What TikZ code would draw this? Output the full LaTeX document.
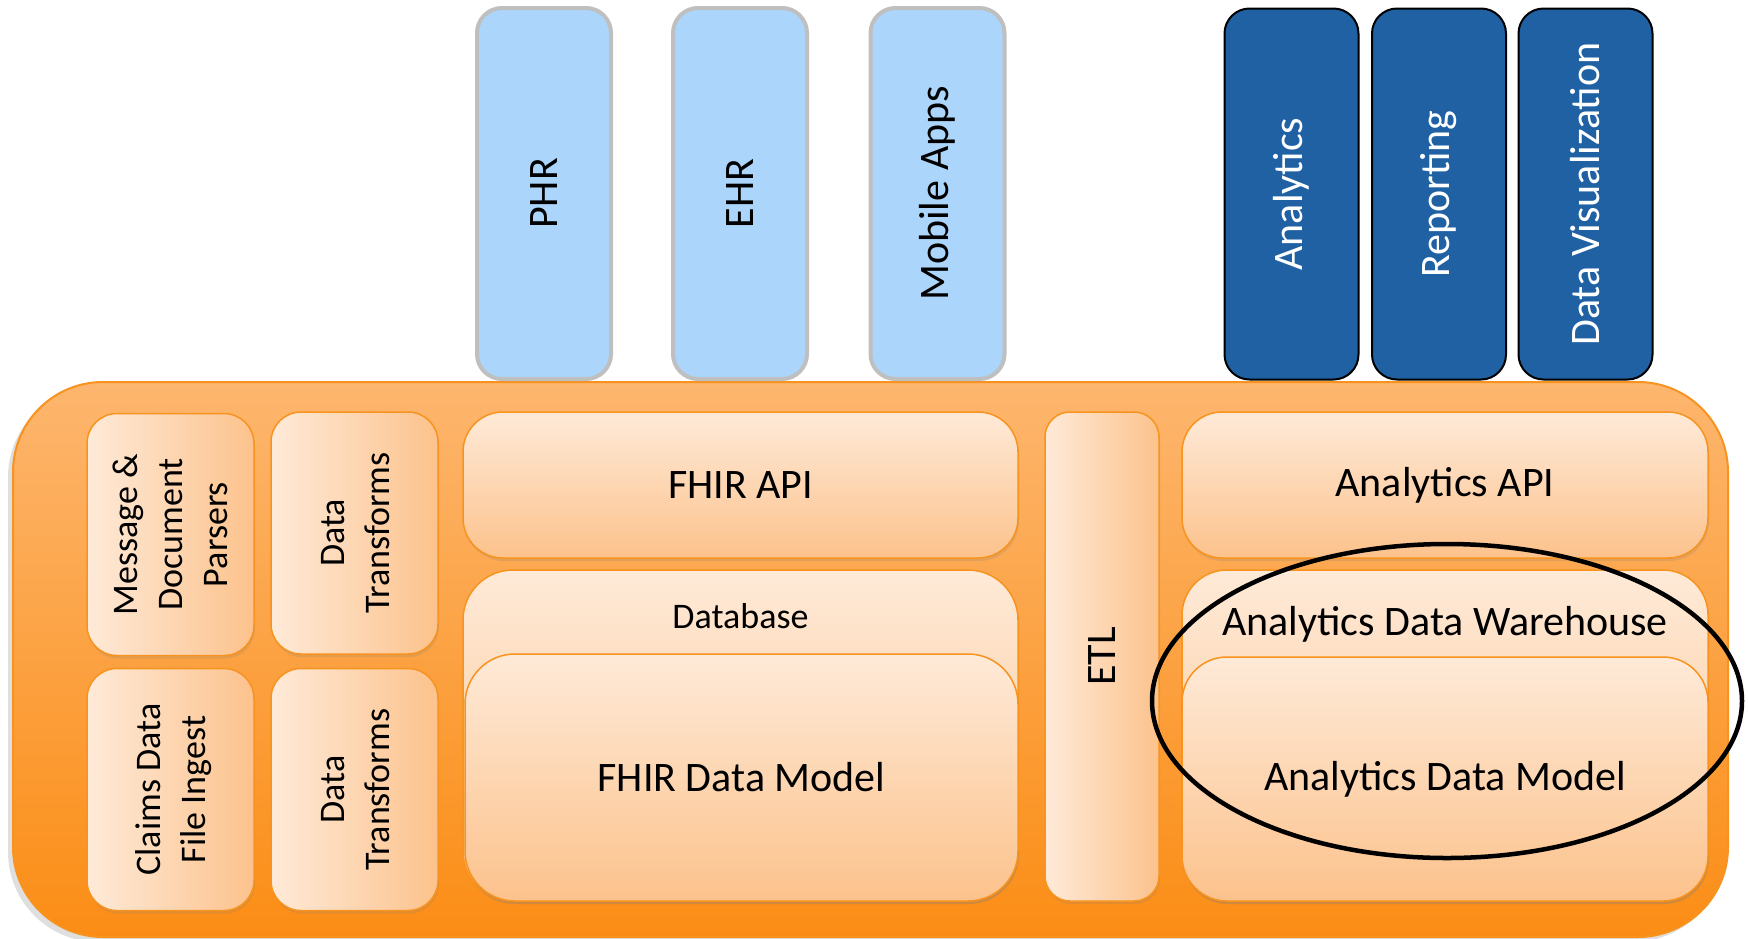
\documentclass[tikz,border=0pt]{standalone}
\usepackage{fontspec}
\setmainfont{Carlito}
\usetikzlibrary{shadows,shapes.geometric}
\definecolor{appblue}{HTML}{ABD5FA}
\definecolor{appedge}{HTML}{BFBFBF}
\definecolor{toolblue}{HTML}{1F61A3}
\definecolor{platformtop}{HTML}{FDB66E}
\definecolor{platformbottom}{HTML}{FB8D15}
\definecolor{platformedge}{HTML}{F7931E}
\definecolor{layerlight}{HTML}{FEEAD8}
\definecolor{layerdark}{HTML}{FCC28C}
\newcommand{\bigfont}{\fontsize{42}{50}\selectfont}
\newcommand{\smallfont}{\fontsize{36}{45}\selectfont}
\newcommand{\uplabel}[1]{\rotatebox{90}{\begin{tabular}{@{}c@{}}#1\end{tabular}}}

\begin{document}
\begin{tikzpicture}[x=1pt,y=-1pt,
  platform/.style={draw=platformedge,line width=2pt,rounded corners=90pt,top color=platformtop,bottom color=platformbottom,drop shadow={shadow xshift=-5pt,shadow yshift=-5pt,opacity=0.25}},
  layer/.style={draw=platformedge,line width=1.5pt,rounded corners=30pt,inner sep=0pt,font=\bigfont,drop shadow={shadow xshift=1pt,shadow yshift=-3pt,opacity=0.2}},
  flat/.style={layer,top color=layerlight,bottom color=layerdark},
  upright/.style={layer,left color=layerlight,right color=layerdark,font=\smallfont},
  app/.style={rotate=90,rounded corners=25pt,minimum width=371pt,minimum height=134pt,font=\bigfont},
  client/.style={app,fill=appblue,draw=appedge,line width=4pt},
  tool/.style={app,fill=toolblue,draw=black,line width=2pt,text=white}]
  \useasboundingbox (0,0) rectangle (1748,938);

  \node[platform,minimum width=1715pt,minimum height=555pt] (platform) at (870.5,659.5) {};

  \foreach \name/\x/\y/\words in {parsers/170.5/534.5/{Message \&\\Document\\Parsers},
      transformsA/354.5/533/{Data\\Transforms},
      claims/170.5/789.5/{Claims Data\\File Ingest},
      transformsB/354.5/789.5/{Data\\Transforms}} {
    \node[upright,minimum width=167pt,minimum height=242pt] (\name) at (\x,\y) {\hspace*{6pt}\uplabel{\words}};
  }

  \node[flat,rounded corners=40pt,minimum width=555pt,minimum height=146pt] (fhirapi) at (740.5,485) {\raisebox{-3pt}{FHIR API}};
  \node[flat,rounded corners=50pt,minimum width=555pt,minimum height=331pt] (database) at (740.5,735.5) {};
  \node[font=\smallfont] (dblabel) at (740.5,616) {Database};
  \node[flat,rounded corners=50pt,minimum width=553pt,minimum height=247pt] (fhirmodel) at (741.5,777.5) {\raisebox{-2pt}{FHIR Data Model}};

  \node[upright,rounded corners=25pt,font=\bigfont,minimum width=114pt,minimum height=489pt] (etl) at (1102,656.5) {\rotatebox{90}{ETL}};

  \node[flat,rounded corners=40pt,minimum width=526pt,minimum height=146pt] (anaapi) at (1445,485) {\raisebox{-3pt}{Analytics API}};
  \node[flat,rounded corners=45pt,minimum width=526pt,minimum height=331pt] (warehouse) at (1445,735.5) {};
  \node[font=\bigfont] (whlabel) at (1445,624) {Analytics Data Warehouse};
  \node[flat,rounded corners=45pt,minimum width=526pt,minimum height=244pt] (anamodel) at (1445,779) {\raisebox{-2pt}{Analytics Data Model}};

  \foreach \name/\x/\words in {phr/544/PHR, ehr/740/EHR, apps/937.5/Mobile Apps} {
    \node[client] (\name) at (\x,193.5) {\words};
  }
  \foreach \name/\x/\words in {analytics/1291.5/Analytics, reporting/1439/Reporting, dataviz/1585.5/Data Visualization} {
    \node[tool] (\name) at (\x,194) {\words};
  }

  \node[draw,ellipse,line width=4.5pt,minimum width=590pt,minimum height=314pt,inner sep=0pt] (focus) at (1447,701) {};
\end{tikzpicture}
\end{document}
